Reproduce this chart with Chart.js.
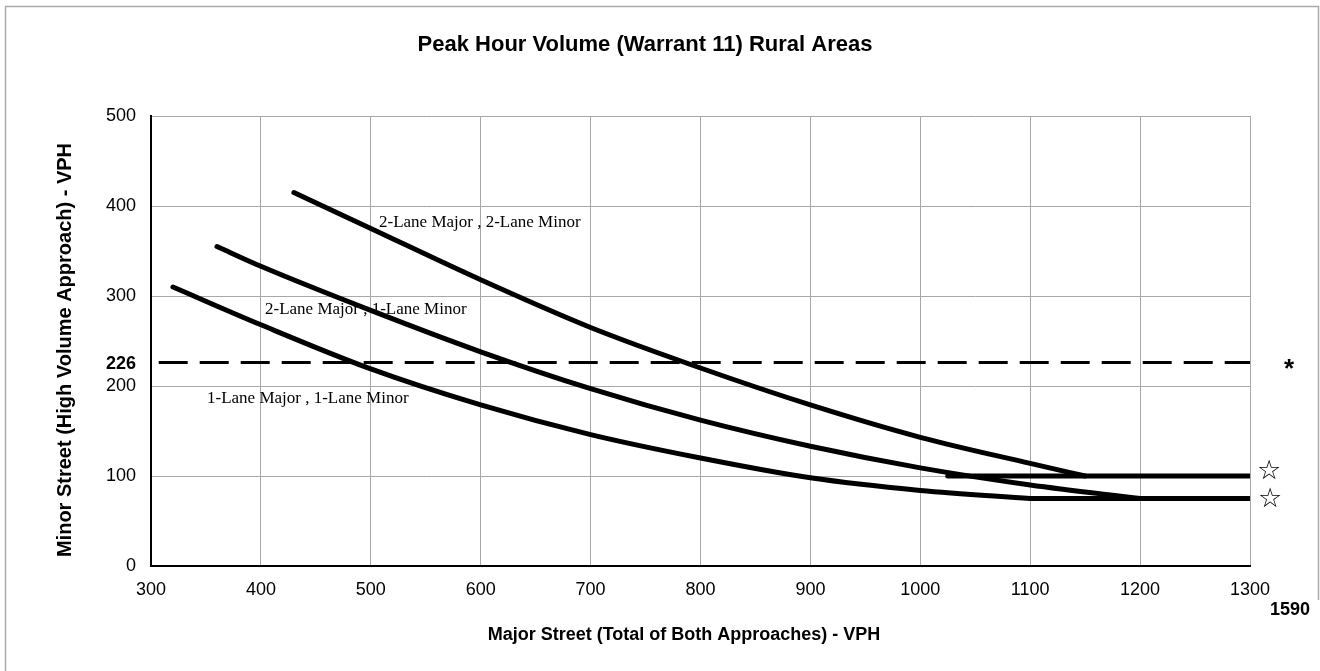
<!DOCTYPE html>
<html>
<head>
<meta charset="utf-8">
<title>Peak Hour Volume (Warrant 11) Rural Areas</title>
<script src="https://cdn.jsdelivr.net/npm/chart.js@4.4.1/dist/chart.umd.min.js"></script>
<style>
    html, body { margin: 0; padding: 0; background: #fff; }
    #chart { display: block; }
</style>
</head>
<body>
<canvas id="chart" width="1320" height="671"></canvas>
<script>
// Axis ranges and ticks
const xMin = 300, xMax = 1300, xStep = 100;
const yMin = 0, yMax = 500, yStep = 100;

// 2-Lane Major , 2-Lane Minor
const curve22X = [430, 500, 600, 700, 800, 900, 1000, 1100, 1150];
const curve22Y = [415, 375, 318, 265, 220, 179, 143, 114, 100];

// 2-Lane Major , 1-Lane Minor
const curve21X = [360, 400, 500, 600, 700, 800, 900, 1000, 1100, 1200];
const curve21Y = [355, 333, 284, 238, 197, 162, 133, 109, 90, 75];

// 1-Lane Major , 1-Lane Minor
const curve11X = [320, 400, 500, 600, 700, 800, 900, 1000, 1100];
const curve11Y = [310, 268, 219, 179, 146, 120, 98, 84, 75];

// Minimum floors at the right end
const floorHighX = [1025, 1300];
const floorHighY = [100, 100];
const floorLowX = [1100, 1300];
const floorLowY = [75, 75];

// Threshold line for the minor street
const thresholdX = [307, 1300];
const thresholdY = [226, 226];
const thresholdLabel = '226';
const majorLabel = '1590';

const curveLabels = [
    { text: '2-Lane Major , 2-Lane Minor', x: 379, y: 223 },
    { text: '2-Lane Major , 1-Lane Minor', x: 265, y: 310 },
    { text: '1-Lane Major , 1-Lane Minor', x: 207, y: 399 }
];

function toPoints(xs, ys) {
    return xs.map((x, i) => ({ x: x, y: ys[i] }));
}

function curveDataset(xs, ys) {
    return {
        data: toPoints(xs, ys),
        borderColor: '#000',
        borderWidth: 5,
        borderCapStyle: 'round',
        pointRadius: 0,
        cubicInterpolationMode: 'monotone',
        fill: false
    };
}

// Frame, titles and annotations
const decorations = {
    id: 'decorations',
    beforeDraw(chart) {
        const ctx = chart.ctx;
        ctx.save();
        ctx.fillStyle = '#fff';
        ctx.fillRect(0, 0, chart.width, chart.height);
        ctx.strokeStyle = '#aaa';
        ctx.lineWidth = 1.5;
        ctx.beginPath();
        ctx.moveTo(5.5, 671);
        ctx.lineTo(5.5, 6.5);
        ctx.lineTo(1318.5, 6.5);
        ctx.lineTo(1318.5, 600);
        ctx.stroke();
        ctx.restore();
    },
    afterDraw(chart) {
        const ctx = chart.ctx;
        const ys = chart.scales.y;
        ctx.save();
        ctx.fillStyle = '#000';
        ctx.textBaseline = 'middle';

        ctx.textAlign = 'center';
        ctx.font = 'bold 22px "Liberation Sans", Arial, sans-serif';
        ctx.fillText('Peak Hour Volume (Warrant 11) Rural Areas', 645, 45);

        ctx.font = 'bold 18px "Liberation Sans", Arial, sans-serif';
        ctx.fillText('Major Street (Total of Both Approaches) - VPH', 684, 635);

        ctx.save();
        ctx.translate(65, 350);
        ctx.rotate(-Math.PI / 2);
        ctx.font = 'bold 20px "Liberation Sans", Arial, sans-serif';
        ctx.fillText('Minor Street (High Volume Approach) - VPH', 0, 0);
        ctx.restore();

        // curve names
        ctx.textAlign = 'left';
        ctx.font = '17px "Liberation Serif", "Times New Roman", serif';
        curveLabels.forEach(l => ctx.fillText(l.text, l.x, l.y));

        // threshold value on the y axis and major volume under the x axis
        ctx.font = 'bold 18px "Liberation Sans", Arial, sans-serif';
        ctx.textAlign = 'right';
        ctx.fillText(thresholdLabel, 136, ys.getPixelForValue(226) + 1);
        ctx.fillText(majorLabel, 1310, 610);

        // markers past the right edge
        ctx.textAlign = 'center';
        ctx.font = 'bold 26px "Liberation Sans", Arial, sans-serif';
        ctx.fillText('*', 1289, ys.getPixelForValue(226) + 7);
        ctx.font = '27px "DejaVu Sans", sans-serif';
        ctx.fillText('\u2606', 1269, ys.getPixelForValue(100) - 4);
        ctx.fillText('\u2606', 1270, ys.getPixelForValue(75) + 1);
        ctx.restore();
    }
};

new Chart(document.getElementById('chart'), {
    type: 'line',
    data: {
        datasets: [
            curveDataset(curve22X, curve22Y),
            curveDataset(curve21X, curve21Y),
            curveDataset(curve11X, curve11Y),
            curveDataset(floorHighX, floorHighY),
            curveDataset(floorLowX, floorLowY),
            {
                data: toPoints(thresholdX, thresholdY),
                borderColor: '#000',
                borderWidth: 3,
                borderDash: [29, 12],
                pointRadius: 0,
                fill: false
            }
        ]
    },
    options: {
        responsive: false,
        devicePixelRatio: 1,
        animation: false,
        layout: { padding: { left: 0, right: 70, top: 116, bottom: 0 } },
        plugins: {
            legend: { display: false },
            tooltip: { enabled: false },
            title: { display: false }
        },
        scales: {
            x: {
                type: 'linear',
                min: xMin,
                max: xMax,
                ticks: {
                    stepSize: xStep,
                    color: '#000',
                    font: { family: '"Liberation Sans", Arial, sans-serif', size: 18 },
                    padding: 13,
                    maxRotation: 0,
                    callback: (v) => String(v)
                },
                grid: { color: '#a8a8a8', lineWidth: 1, drawTicks: false },
                border: { color: '#000', width: 2 },
                afterFit(scale) { scale.height = 105; }
            },
            y: {
                min: yMin,
                max: yMax,
                ticks: {
                    stepSize: yStep,
                    color: '#000',
                    font: { family: '"Liberation Sans", Arial, sans-serif', size: 18 },
                    padding: 15
                },
                grid: { color: '#a8a8a8', lineWidth: 1, drawTicks: false },
                border: { color: '#000', width: 2 },
                afterFit(scale) { scale.width = 151; }
            }
        }
    },
    plugins: [decorations]
});
</script>
</body>
</html>
